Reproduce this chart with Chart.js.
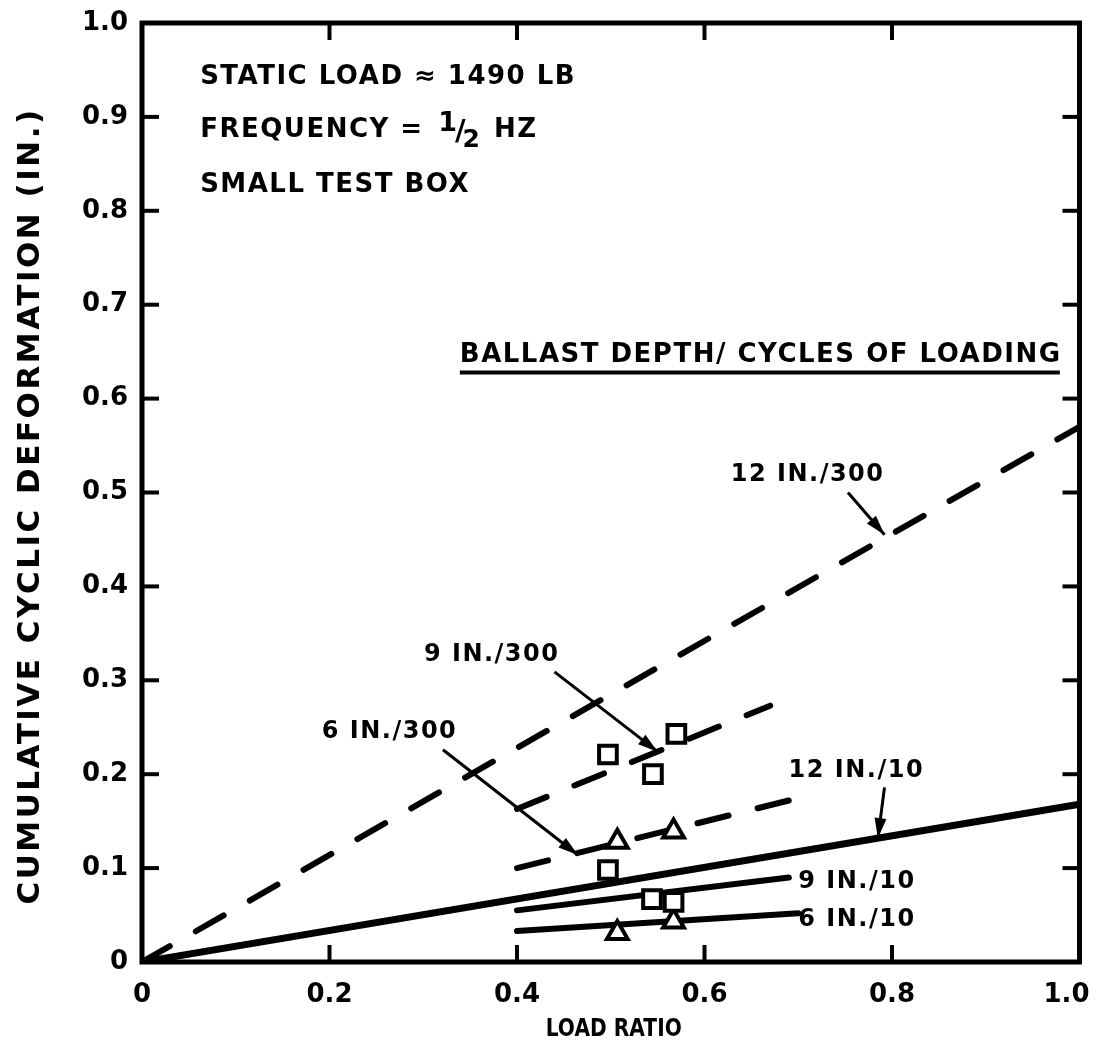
<!DOCTYPE html>
<html>
<head>
<meta charset="utf-8">
<script src="https://cdn.jsdelivr.net/npm/chart.js@4/dist/chart.umd.min.js"></script>
<style>
  html, body { margin: 0; padding: 0; background: #fff; }
  #wrap { width: 1096px; height: 1057px; }
</style>
</head>
<body>
<div id="wrap"><canvas id="c" width="1096" height="1057"></canvas></div>
<script>
// ---- axis ticks ----
const xTickValues = [0, 0.2, 0.4, 0.6, 0.8, 1.0];
const xTickLabels = ['0', '0.2', '0.4', '0.6', '0.8', '1.0'];
const yTickValues = [0, 0.1, 0.2, 0.3, 0.4, 0.5, 0.6, 0.7, 0.8, 0.9, 1.0];
const yTickLabels = ['0', '0.1', '0.2', '0.3', '0.4', '0.5', '0.6', '0.7', '0.8', '0.9', '1.0'];

// ---- fitted lines (load ratio -> deformation) ----
const x12in = [0, 1.0];
const y12in300 = [0, 0.57];
const y12in10 = [0, 0.168];
const x9in300 = [0.40, 0.67];
const y9in300 = [0.163, 0.273];
const x6in300 = [0.40, 0.69];
const y6in300 = [0.10, 0.172];
const x9in10 = [0.40, 0.69];
const y9in10 = [0.055, 0.09];
const x6in10 = [0.40, 0.70];
const y6in10 = [0.033, 0.052];

// ---- measured points ----
const xSquares300 = [0.497, 0.545, 0.570];
const ySquares300 = [0.221, 0.200, 0.243];
const xSquares10 = [0.497, 0.544, 0.567];
const ySquares10 = [0.098, 0.067, 0.064];
const xTriangles = [0.507, 0.567];
const yTriangles300 = [0.128, 0.139];
const yTriangles10 = [0.031, 0.043];

// ---- curve labels and leader arrows ----
const curveLabels = ['12 IN./300', '9 IN./300', '6 IN./300', '12 IN./10', '9 IN./10', '6 IN./10'];
const curveLabelX = [0.710, 0.373, 0.264, 0.762, 0.700, 0.700];
const curveLabelY = [0.519, 0.327, 0.245, 0.204, 0.085, 0.045];
const curveLabelAlign = ['center', 'center', 'center', 'center', 'left', 'left'];
const arrowFromX = [0.753, 0.440, 0.321, 0.792];
const arrowFromY = [0.500, 0.309, 0.226, 0.186];
const arrowToX = [0.792, 0.550, 0.465, 0.785];
const arrowToY = [0.455, 0.224, 0.114, 0.132];

const noteLines = ['STATIC LOAD \u2248 1490 LB', 'FREQUENCY = ', 'SMALL TEST BOX'];
const noteX = 0.062;
const noteY = [0.942, 0.886, 0.827];
const legendTitle = 'BALLAST DEPTH/ CYCLES OF LOADING';
const legendTitleX = 0.339;
const legendTitleY = 0.646;
const legendRuleEndX = 0.979;
const xTitle = 'LOAD RATIO';
const yTitle = 'CUMULATIVE CYCLIC DEFORMATION (IN.)';

const pts = (xs, ys) => xs.map((v, i) => ({ x: v, y: ys[i] }));
const INK = '#000';
const FONT = '"DejaVu Sans", "Liberation Sans", sans-serif';

function lineDs(xs, ys, dashed, width) {
  return {
    type: 'line', data: pts(xs, ys), showLine: true, borderColor: INK,
    borderWidth: width, borderDash: dashed ? [32, 30] : [], borderCapStyle: 'round',
    pointRadius: 0, fill: false, order: 2, tension: 0
  };
}
function markerDs(xs, ys, style, r) {
  return {
    type: 'scatter', data: pts(xs, ys), showLine: false, pointStyle: style,
    pointRadius: r, pointBorderWidth: 4, pointBorderColor: INK,
    pointBackgroundColor: '#fff', order: 0
  };
}
const arrowDatasets = arrowFromX.map((v, i) => ({
  type: 'line', data: [{ x: v, y: arrowFromY[i] }, { x: arrowToX[i], y: arrowToY[i] }],
  showLine: true, borderColor: INK, borderWidth: 3, pointRadius: 0, order: 1
}));

function spaced(ctx, px) { if ('letterSpacing' in ctx) ctx.letterSpacing = px + 'px'; }

const framePlugin = {
  id: 'frame',
  afterDraw(chart) {
    const { ctx, chartArea: a, scales: { x, y } } = chart;
    ctx.save();
    ctx.strokeStyle = INK; ctx.fillStyle = INK;
    // border
    ctx.lineWidth = 5; ctx.lineJoin = 'miter';
    ctx.strokeRect(a.left, a.top, a.right - a.left, a.bottom - a.top);
    // inward ticks
    ctx.lineWidth = 4; ctx.lineCap = 'butt';
    const TL = 17;
    xTickValues.slice(1, -1).forEach(v => {
      const px = x.getPixelForValue(v);
      ctx.beginPath(); ctx.moveTo(px, a.bottom); ctx.lineTo(px, a.bottom - TL); ctx.stroke();
      ctx.beginPath(); ctx.moveTo(px, a.top); ctx.lineTo(px, a.top + TL); ctx.stroke();
    });
    yTickValues.slice(1, -1).forEach(v => {
      const py = y.getPixelForValue(v);
      ctx.beginPath(); ctx.moveTo(a.left, py); ctx.lineTo(a.left + TL, py); ctx.stroke();
      ctx.beginPath(); ctx.moveTo(a.right, py); ctx.lineTo(a.right - TL, py); ctx.stroke();
    });
    // arrow heads
    arrowFromX.forEach((v, i) => {
      const x0 = x.getPixelForValue(v), y0 = y.getPixelForValue(arrowFromY[i]);
      const x1 = x.getPixelForValue(arrowToX[i]), y1 = y.getPixelForValue(arrowToY[i]);
      const ang = Math.atan2(y1 - y0, x1 - x0);
      const L = 20, W = 6;
      ctx.beginPath();
      ctx.moveTo(x1, y1);
      ctx.lineTo(x1 - L * Math.cos(ang) + W * Math.sin(ang), y1 - L * Math.sin(ang) - W * Math.cos(ang));
      ctx.lineTo(x1 - L * Math.cos(ang) - W * Math.sin(ang), y1 - L * Math.sin(ang) + W * Math.cos(ang));
      ctx.closePath(); ctx.fill();
    });
    // curve labels
    ctx.font = `bold 24px ${FONT}`;
    spaced(ctx, 1.5);
    ctx.textBaseline = 'middle';
    curveLabels.forEach((t, i) => {
      ctx.textAlign = curveLabelAlign[i];
      ctx.fillText(t, x.getPixelForValue(curveLabelX[i]), y.getPixelForValue(curveLabelY[i]));
    });
    // notes
    ctx.font = `bold 26px ${FONT}`;
    spaced(ctx, 1.5);
    ctx.textAlign = 'left';
    const nx = x.getPixelForValue(noteX);
    noteLines.forEach((t, i) => {
      ctx.fillText(t, nx, y.getPixelForValue(noteY[i]));
    });
    // the 1/2 fraction on the frequency line
    const fy = y.getPixelForValue(noteY[1]);
    let fx = nx + ctx.measureText(noteLines[1]).width + 4;
    spaced(ctx, 0);
    ctx.font = `bold 27px ${FONT}`;
    ctx.fillText('1', fx, fy - 6);
    fx += ctx.measureText('1').width - 2;
    ctx.font = `bold 29px ${FONT}`;
    ctx.fillText('/', fx, fy + 2);
    fx += ctx.measureText('/').width - 3;
    ctx.font = `bold 25px ${FONT}`;
    ctx.fillText('2', fx, fy + 10);
    fx += ctx.measureText('2').width + 14;
    ctx.font = `bold 26px ${FONT}`;
    spaced(ctx, 1.5);
    ctx.fillText('HZ', fx, fy);
    // legend heading with rule
    ctx.font = `bold 26px ${FONT}`;
    spaced(ctx, 1.5);
    const lx = x.getPixelForValue(legendTitleX), ly = y.getPixelForValue(legendTitleY);
    ctx.fillText(legendTitle, lx, ly);
    ctx.lineWidth = 4;
    ctx.beginPath(); ctx.moveTo(lx, ly + 17); ctx.lineTo(x.getPixelForValue(legendRuleEndX), ly + 17); ctx.stroke();
    // axis titles
    ctx.textAlign = 'center';
    ctx.save();
    ctx.translate((a.left + a.right) / 2 + 3, 1030);
    ctx.scale(0.84, 1);
    ctx.font = `bold 24px ${FONT}`;
    spaced(ctx, 0);
    ctx.fillText(xTitle, 0, 0);
    ctx.restore();
    ctx.save();
    ctx.translate(31, 506);
    ctx.rotate(-Math.PI / 2);
    ctx.font = `bold 31px ${FONT}`;
    spaced(ctx, 2.5);
    ctx.fillText(yTitle, 0, 0);
    ctx.restore();
    ctx.restore();
  }
};

new Chart(document.getElementById('c'), {
  type: 'scatter',
  data: {
    datasets: [
      markerDs(xSquares300, ySquares300, 'rect', 12.5),
      markerDs(xSquares10, ySquares10, 'rect', 12.5),
      markerDs(xTriangles, yTriangles300, 'triangle', 12),
      markerDs(xTriangles, yTriangles10, 'triangle', 12),
      lineDs(x12in, y12in300, true, 6),
      lineDs(x9in300, y9in300, true, 6),
      lineDs(x6in300, y6in300, true, 6),
      lineDs(x12in, y12in10, false, 7),
      lineDs(x9in10, y9in10, false, 6),
      lineDs(x6in10, y6in10, false, 6),
      ...arrowDatasets
    ]
  },
  options: {
    responsive: false,
    animation: false,
    devicePixelRatio: 1,
    layout: { padding: { top: 23, right: 16, left: 0, bottom: 0 } },
    plugins: { legend: { display: false }, tooltip: { enabled: false } },
    scales: {
      x: {
        type: 'linear', min: 0, max: 1,
        grid: { display: false, drawTicks: false }, border: { display: false },
        afterBuildTicks: s => { s.ticks = xTickValues.map(v => ({ value: v })); },
        afterFit: s => { s.height = 95; s.paddingLeft = 0; s.paddingRight = 0; },
        ticks: {
          color: INK, padding: 18, maxRotation: 0, align: 'center',
          font: { family: FONT, size: 26, weight: 'bold' },
          callback: (v, i) => i === xTickLabels.length - 1 ? xTickLabels[i] + '\u2003' : xTickLabels[i]
        }
      },
      y: {
        type: 'linear', min: 0, max: 1,
        grid: { display: false, drawTicks: false }, border: { display: false },
        afterBuildTicks: s => { s.ticks = yTickValues.map(v => ({ value: v })); },
        afterFit: s => { s.width = 142; s.paddingTop = 0; s.paddingBottom = 0; },
        ticks: {
          color: INK, padding: 14,
          font: { family: FONT, size: 26, weight: 'bold' },
          callback: (v, i) => yTickLabels[i]
        }
      }
    }
  },
  plugins: [framePlugin]
});
</script>
</body>
</html>
